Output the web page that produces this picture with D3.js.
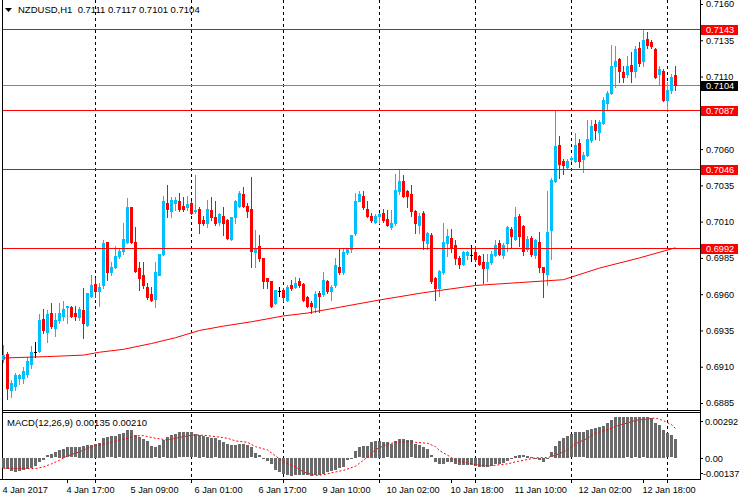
<!DOCTYPE html>
<html><head><meta charset="utf-8">
<script src="https://cdn.jsdelivr.net/npm/d3@7"></script>
<style>
body{margin:0;background:#fff}
svg{display:block}
text{font-family:"Liberation Sans",Arial,sans-serif;font-size:9.2px}
</style>
</head><body>
<svg id="c" width="740" height="500"></svg>
<script>
// ---- DATA ----
const symbolTitle = "NZDUSD,H1";
const titleValues = ["0.7111", "0.7117", "0.7101", "0.7104"];
// hourly candles [open, high, low, close]
const ohlc = [
[0.6915,0.6925,0.6913,0.6918],[0.6919,0.6920,0.6888,0.6895],[0.6894,0.6901,0.6889,0.6899],[0.6897,0.6906,0.6894,0.6904],
[0.6902,0.6905,0.6898,0.6904],[0.6902,0.6910,0.6899,0.6907],[0.6905,0.6917,0.6903,0.6914],[0.6912,0.6924,0.6909,0.6920],
[0.6920,0.6927,0.6917,0.6920],[0.6921,0.6946,0.6920,0.6942],[0.6943,0.6950,0.6933,0.6935],[0.6934,0.6949,0.6927,0.6946],
[0.6947,0.6954,0.6937,0.6938],[0.6937,0.6947,0.6931,0.6942],[0.6942,0.6954,0.6940,0.6947],[0.6945,0.6955,0.6942,0.6950],
[0.6951,0.6952,0.6940,0.6952],[0.6951,0.6952,0.6944,0.6945],[0.6947,0.6952,0.6942,0.6945],[0.6944,0.6951,0.6942,0.6950],
[0.6949,0.6964,0.6930,0.6940],[0.6939,0.6961,0.6938,0.6961],[0.6959,0.6973,0.6958,0.6966],[0.6967,0.6971,0.6958,0.6962],
[0.6962,0.6968,0.6952,0.6965],[0.6966,0.6997,0.6964,0.6995],[0.6996,0.6996,0.6970,0.6975],[0.6975,0.6982,0.6973,0.6979],
[0.6979,0.6993,0.6978,0.6986],[0.6986,0.6992,0.6985,0.6990],[0.6990,0.7009,0.6988,0.6998],[0.6996,0.7026,0.6995,0.7020],
[0.7020,0.7020,0.6995,0.6996],[0.6996,0.7006,0.6975,0.6976],[0.6978,0.6982,0.6963,0.6971],[0.6973,0.6982,0.6964,0.6966],
[0.6965,0.6968,0.6957,0.6958],[0.6960,0.6965,0.6955,0.6956],[0.6957,0.6982,0.6951,0.6975],[0.6973,0.6988,0.6973,0.6988],
[0.6988,0.7028,0.6987,0.7024],[0.7023,0.7035,0.7013,0.7019],[0.7017,0.7027,0.7013,0.7025],[0.7023,0.7027,0.7018,0.7025],
[0.7024,0.7030,0.7017,0.7019],[0.7021,0.7027,0.7017,0.7019],[0.7020,0.7028,0.7018,0.7022],[0.7023,0.7024,0.7015,0.7016],
[0.7017,0.7042,0.7016,0.7018],[0.7019,0.7020,0.7002,0.7009],[0.7011,0.7014,0.7008,0.7009],[0.7009,0.7025,0.7006,0.7019],
[0.7018,0.7027,0.7011,0.7013],[0.7013,0.7024,0.7008,0.7009],[0.7010,0.7016,0.7008,0.7015],[0.7014,0.7020,0.7001,0.7009],
[0.7011,0.7012,0.6998,0.6999],[0.6998,0.7013,0.6997,0.7013],[0.7013,0.7025,0.7009,0.7024],[0.7021,0.7031,0.7020,0.7030],
[0.7029,0.7034,0.7020,0.7021],[0.7021,0.7023,0.7013,0.7017],[0.7019,0.7041,0.6979,0.6990],[0.6989,0.7004,0.6979,0.6991],
[0.6993,0.7001,0.6983,0.6985],[0.6985,0.6985,0.6964,0.6969],[0.6971,0.6971,0.6964,0.6969],[0.6969,0.6969,0.6951,0.6952],
[0.6954,0.6963,0.6953,0.6963],[0.6962,0.6965,0.6959,0.6962],[0.6963,0.6964,0.6955,0.6958],[0.6956,0.6966,0.6955,0.6965],
[0.6966,0.6970,0.6963,0.6964],[0.6965,0.6972,0.6964,0.6968],[0.6969,0.6971,0.6965,0.6966],[0.6967,0.6968,0.6955,0.6956],
[0.6958,0.6959,0.6951,0.6952],[0.6954,0.6955,0.6947,0.6952],[0.6951,0.6962,0.6948,0.6960],[0.6961,0.6962,0.6948,0.6959],
[0.6960,0.6975,0.6959,0.6970],[0.6969,0.6970,0.6961,0.6962],[0.6962,0.6966,0.6956,0.6965],[0.6966,0.6985,0.6965,0.6980],
[0.6979,0.6991,0.6974,0.6975],[0.6975,0.6991,0.6974,0.6989],[0.6989,0.6991,0.6988,0.6991],[0.6991,0.7001,0.6989,0.7001],
[0.7002,0.7030,0.7001,0.7024],[0.7024,0.7031,0.7024,0.7029],[0.7028,0.7031,0.7019,0.7020],[0.7019,0.7024,0.7013,0.7014],
[0.7014,0.7016,0.7010,0.7011],[0.7010,0.7015,0.7009,0.7014],[0.7014,0.7016,0.7009,0.7015],[0.7016,0.7019,0.7010,0.7011],
[0.7012,0.7018,0.7007,0.7008],[0.7006,0.7018,0.7005,0.7009],[0.7009,0.7043,0.7008,0.7032],[0.7031,0.7046,0.7029,0.7038],
[0.7038,0.7042,0.7027,0.7028],[0.7031,0.7032,0.7020,0.7028],[0.7029,0.7035,0.7014,0.7017],[0.7017,0.7018,0.7002,0.7009],
[0.7008,0.7016,0.7002,0.7014],[0.7016,0.7017,0.6991,0.6997],[0.6995,0.7003,0.6991,0.7002],[0.7001,0.7002,0.6968,0.6969],
[0.6971,0.6972,0.6956,0.6964],[0.6964,0.6977,0.6959,0.6976],[0.6975,0.7009,0.6974,0.6996],[0.6995,0.7005,0.6986,0.7000],
[0.6999,0.7005,0.6989,0.6992],[0.6994,0.6997,0.6981,0.6985],[0.6985,0.6986,0.6978,0.6981],[0.6981,0.6990,0.6980,0.6989],
[0.6987,0.6990,0.6984,0.6989],[0.6987,0.6994,0.6983,0.6987],[0.6989,0.6993,0.6983,0.6984],[0.6986,0.6987,0.6980,0.6981],
[0.6982,0.6988,0.6968,0.6978],[0.6978,0.6988,0.6969,0.6982],[0.6982,0.6990,0.6981,0.6988],[0.6987,0.6997,0.6986,0.6994],
[0.6995,0.6997,0.6987,0.6988],[0.6987,0.6995,0.6985,0.6994],[0.6995,0.7007,0.6990,0.7006],[0.7005,0.7006,0.6992,0.7000],
[0.6998,0.7020,0.6997,0.7013],[0.7014,0.7015,0.6993,0.7000],[0.7007,0.7008,0.6987,0.6990],[0.6991,0.7000,0.6990,0.6998],
[0.6999,0.7000,0.6986,0.6988],[0.6987,0.6998,0.6985,0.6997],[0.6996,0.7003,0.6975,0.6979],[0.6979,0.6979,0.6958,0.6975],
[0.6974,0.7031,0.6966,0.7003],[0.7004,0.7040,0.6984,0.7039],[0.7038,0.7087,0.7037,0.7062],[0.7063,0.7069,0.7040,0.7050],
[0.7052,0.7053,0.7043,0.7049],[0.7048,0.7053,0.7047,0.7052],[0.7053,0.7055,0.7052,0.7054],[0.7052,0.7071,0.7051,0.7063],
[0.7064,0.7067,0.7048,0.7052],[0.7053,0.7058,0.7044,0.7056],[0.7056,0.7080,0.7055,0.7067],[0.7066,0.7080,0.7065,0.7076],
[0.7077,0.7080,0.7067,0.7073],[0.7072,0.7080,0.7066,0.7079],[0.7078,0.7096,0.7077,0.7094],[0.7092,0.7100,0.7087,0.7099],
[0.7099,0.7132,0.7098,0.7117],[0.7117,0.7131,0.7103,0.7121],[0.7122,0.7123,0.7106,0.7114],[0.7113,0.7117,0.7106,0.7110],
[0.7112,0.7124,0.7110,0.7117],[0.7118,0.7127,0.7106,0.7114],[0.7114,0.7131,0.7110,0.7129],[0.7130,0.7134,0.7117,0.7119],
[0.7121,0.7143,0.7117,0.7135],[0.7136,0.7141,0.7130,0.7132],[0.7134,0.7135,0.7130,0.7131],[0.7129,0.7130,0.7109,0.7110],
[0.7112,0.7117,0.7105,0.7115],[0.7114,0.7115,0.7093,0.7094],[0.7094,0.7106,0.7086,0.7101],[0.7101,0.7112,0.7099,0.7110],
[0.7111,0.7117,0.7101,0.7104]
];
// moving average read at [bar, value]
const maPoints = [[0,0.6916],[11,0.6917],[20,0.6918],[24,0.6920],[30,0.6922],[37,0.6926],[43,0.6930],[49,0.6935],
[55,0.6938],[62,0.6941],[70,0.6945],[76,0.6947],[84,0.6951],[94,0.6956],[105,0.6961],[118,0.6966],[129,0.6968],
[140,0.6970],[149,0.6978],[159,0.6985],[168,0.6992]];
// MACD main (histogram), one per bar
const macdMain = [
-0.00075,-0.00080,-0.00095,-0.00100,-0.00095,-0.00088,-0.00080,-0.00071,-0.00056,-0.00032,
-0.00015,0.00017,0.00027,0.00039,0.00054,0.00066,0.00075,0.00075,0.00075,0.00080,
0.00085,0.00090,0.00095,0.00102,0.00107,0.00141,0.00146,0.00153,0.00158,0.00168,
0.00178,0.00197,0.00197,0.00163,0.00148,0.00134,0.00119,0.00083,0.00075,0.00095,
0.00124,0.00148,0.00163,0.00173,0.00182,0.00182,0.00182,0.00182,0.00168,0.00161,
0.00153,0.00148,0.00144,0.00139,0.00127,0.00114,0.00100,0.00095,0.00095,0.00100,
0.00100,0.00095,0.00075,0.00034,0.00017,-0.00002,-0.00022,-0.00046,-0.00088,-0.00100,
-0.00112,-0.00124,-0.00129,-0.00124,-0.00124,-0.00119,-0.00124,-0.00131,-0.00124,-0.00119,
-0.00112,-0.00100,-0.00095,-0.00088,-0.00075,-0.00063,-0.00015,-0.00002,0.00051,0.00075,
0.00085,0.00085,0.00112,0.00119,0.00119,0.00114,0.00110,0.00102,0.00119,0.00134,
0.00134,0.00131,0.00124,0.00100,0.00095,0.00080,0.00063,0.00017,-0.00027,-0.00041,
-0.00041,-0.00032,-0.00032,-0.00041,-0.00051,-0.00051,-0.00051,-0.00051,-0.00056,-0.00061,
-0.00063,-0.00066,-0.00056,-0.00046,-0.00041,-0.00037,-0.00022,-0.00002,0.00015,0.00022,
0.00017,0.00015,0.00007,-0.00002,-0.00015,-0.00027,-0.00010,0.00039,0.00088,0.00119,
0.00144,0.00156,0.00168,0.00182,0.00182,0.00182,0.00197,0.00204,0.00212,0.00221,
0.00231,0.00248,0.00270,0.00290,0.00292,0.00290,0.00289,0.00290,0.00289,0.00290,
0.00289,0.00290,0.00288,0.00250,0.00238,0.00200,0.00175,0.00160,0.00135
];
// MACD signal read at [bar, value]
const macdSignal = [[0,-0.00075],[8,-0.00077],[10,-0.00065],[12,-0.00043],[14,-0.00017],[16,0.00014],[19,0.00043],
[21,0.00068],[23,0.00087],[26,0.00104],[28,0.00121],[31,0.00140],[33,0.00157],[35,0.00159],[36,0.00152],[38,0.00140],
[41,0.00128],[43,0.00140],[46,0.00157],[48,0.00164],[51,0.00159],[53,0.00152],[56,0.00140],[58,0.00121],[61,0.00111],
[63,0.00080],[66,0.00056],[68,0.00014],[70,-0.00029],[73,-0.00065],[75,-0.00101],[78,-0.00126],[80,-0.00121],
[83,-0.00101],[85,-0.00089],[88,-0.00060],[90,-0.00017],[92,0.00028],[93,0.00060],[96,0.00097],[98,0.00111],
[101,0.00116],[103,0.00111],[106,0.00104],[108,0.00080],[109,0.00052],[111,0.00019],[113,-0.00017],[116,-0.00036],
[118,-0.00048],[121,-0.00058],[123,-0.00053],[126,-0.00043],[128,-0.00029],[131,-0.00012],[133,0.00000],[136,0.00002],
[138,0.00019],[141,0.00056],[143,0.00100],[146,0.00140],[148,0.00176],[151,0.00200],[153,0.00225],[156,0.00249],
[158,0.00268],[161,0.00278],[163,0.00285],[165,0.00266],[167,0.00237],[168,0.00210]];
const macdTitle = "MACD(12,26,9) 0.00135 0.00210";
const levels = [0.7143, 0.7087, 0.7046, 0.6992];
const lastPrice = 0.7104;
const priceTicks = [0.7160,0.7135,0.7110,0.7085,0.7060,0.7035,0.7010,0.6985,0.6960,0.6935,0.6910,0.6885];
const macdTicks = [0.00292, 0.00, -0.00137];
const macdTickText = ["0.00292", "0.00", "-0.00137"];
const timeLabelBars = [0,16,32,48,64,80,96,112,128,144,160];
const timeLabels = ["4 Jan 2017","4 Jan 17:00","5 Jan 09:00","6 Jan 01:00","6 Jan 17:00","9 Jan 10:00",
"10 Jan 02:00","10 Jan 18:00","11 Jan 10:00","12 Jan 02:00","12 Jan 18:00"];
const dayStartBars = [23,47,70,94,118,142,166];
const timeTickBars = [16,23,47,70,94,112,118,142,160,166];

// ---- DRAW ----
const BLUE = "#00bfff", RED = "#ff0000";
const FONT = "Liberation Sans, Arial, sans-serif";
const svg = d3.select("#c");
const x = d3.scaleLinear().domain([0, 168]).range([3, 675]);
const cx = i => Math.round(x(i));
const y = d3.scaleLinear().domain([0.6885, 0.7160]).range([403, 4]);
const ym = d3.scaleLinear().domain([-0.00137, 0.00292]).range([477, 417]);
const R = v => Math.round(v);

// dashed day separators
svg.append("g").selectAll("line").data(dayStartBars).join("line")
  .attr("x1", d => cx(d) + 0.5).attr("x2", d => cx(d) + 0.5)
  .attr("y1", 0).attr("y2", 479)
  .attr("stroke", "#000").attr("stroke-dasharray", "3,3").attr("shape-rendering","crispEdges");

// frame
const fr = svg.append("g").attr("stroke", "#000").attr("shape-rendering","crispEdges");
fr.append("line").attr("x1", 2.5).attr("x2", 2.5).attr("y1", 0).attr("y2", 479);
fr.append("line").attr("x1", 700.5).attr("x2", 700.5).attr("y1", 0).attr("y2", 480);
fr.append("line").attr("x1", 2).attr("x2", 701).attr("y1", 410.5).attr("y2", 410.5);
fr.append("line").attr("x1", 2).attr("x2", 701).attr("y1", 412.5).attr("y2", 412.5);
fr.append("line").attr("x1", 0).attr("x2", 701).attr("y1", 479.5).attr("y2", 479.5);

// bid line
svg.append("line").attr("x1", 3).attr("x2", 700).attr("y1", R(y(lastPrice)) + 0.5).attr("y2", R(y(lastPrice)) + 0.5)
  .attr("stroke", "#778899").attr("shape-rendering","crispEdges");

// candles
const cg = svg.append("g").attr("shape-rendering", "crispEdges");
const colorOf = d => d[3] > d[0] ? BLUE : (d[3] < d[0] ? RED : "#000");
cg.selectAll("rect.w").data(ohlc).join("rect").attr("class","w")
  .attr("x", (d,i) => cx(i)).attr("width", 1)
  .attr("y", d => R(y(d[1])))
  .attr("height", d => Math.max(1, R(y(d[2])) - R(y(d[1])) + 1))
  .attr("fill", colorOf);
cg.selectAll("rect.b").data(ohlc).join("rect").attr("class","b")
  .attr("x", (d,i) => cx(i) - 1).attr("width", 3)
  .attr("y", d => R(y(Math.max(d[0], d[3]))))
  .attr("height", d => Math.max(1, R(y(Math.min(d[0], d[3]))) - R(y(Math.max(d[0], d[3]))) + 1))
  .attr("fill", colorOf);

// moving average
svg.append("path").datum(maPoints)
  .attr("d", d3.line().x(d => cx(d[0]) + 0.5).y(d => y(d[1])))
  .attr("fill", "none").attr("stroke", RED).attr("stroke-width", 1);

// horizontal levels
svg.append("g").selectAll("line").data(levels).join("line")
  .attr("x1", 3).attr("x2", 700).attr("y1", d => R(y(d)) + 0.5).attr("y2", d => R(y(d)) + 0.5)
  .attr("stroke", RED).attr("shape-rendering","crispEdges");

// price axis
const yAxis = d3.axisRight(y).tickValues(priceTicks).tickSize(3).tickSizeOuter(0).tickPadding(3)
  .tickFormat(d3.format(".4f"));
const ya = svg.append("g").attr("transform", "translate(700,0)").call(yAxis);
ya.select(".domain").remove();
ya.selectAll("text").attr("font-family", FONT).attr("font-size", "9.2px").attr("fill","#000");

// level labels
const boxes = svg.append("g");
levels.forEach(v => {
  const yy = R(y(v));
  boxes.append("rect").attr("x", 701).attr("y", yy - 4).attr("width", 37).attr("height", 10).attr("fill", RED);
  boxes.append("text").attr("x", 706).attr("y", yy + 0.5).attr("dy", "0.35em").attr("fill", "#fff").text(d3.format(".4f")(v));
});
{
  const yy = R(y(lastPrice));
  boxes.append("rect").attr("x", 701).attr("y", yy - 4).attr("width", 37).attr("height", 10).attr("fill", "#000");
  boxes.append("text").attr("x", 706).attr("y", yy + 0.5).attr("dy", "0.35em").attr("fill", "#fff").text(d3.format(".4f")(lastPrice));
}

// title
svg.append("path").attr("d", "M5,8L12,8L8.5,12Z").attr("fill", "#000");
svg.append("text").attr("x", 18).attr("y", 13).style("font-size","9.5px").style("white-space","pre")
  .text(symbolTitle + "  " + titleValues.join(" "));

// MACD histogram
const mg = svg.append("g").attr("shape-rendering", "crispEdges");
mg.selectAll("rect").data(macdMain).join("rect")
  .attr("x", (d,i) => cx(i) - 1).attr("width", 3)
  .attr("y", d => R(Math.min(ym(d), ym(0))))
  .attr("height", d => Math.max(1, R(Math.abs(ym(d) - ym(0)))))
  .attr("fill", "#6a6a6a");
svg.append("path").datum(macdSignal)
  .attr("d", d3.line().x(d => cx(d[0]) + 0.5).y(d => ym(d[1])))
  .attr("fill", "none").attr("stroke", RED).attr("stroke-width", 1).attr("stroke-dasharray", "2,2");
svg.append("text").attr("x", 7).attr("y", 425.5).style("font-size","9.5px").text(macdTitle);

// MACD axis labels
const mClamp = v => Math.max(421, Math.min(473, R(ym(v))));
const ma = svg.append("g");
macdTicks.forEach((v, k) => {
  const yy = mClamp(v);
  ma.append("line").attr("x1", 700).attr("x2", 703).attr("y1", yy + 0.5).attr("y2", yy + 0.5).attr("stroke", "#000").attr("shape-rendering","crispEdges");
  ma.append("text").attr("x", v < 0 ? 703 : 705).attr("y", yy + 0.5).attr("dy", "0.35em").text(macdTickText[k]);
});

// time axis ticks and labels
const xb = d3.scaleLinear().domain([0,168]).range([cx(0), cx(168)]);
const xt = svg.append("g").attr("transform", "translate(0,479)").call(
  d3.axisBottom(xb).tickValues(timeTickBars).tickSize(4).tickSizeOuter(0).tickFormat(""));
xt.select(".domain").remove();
const xl = svg.append("g").attr("transform", "translate(0,479)").call(
  d3.axisBottom(xb).tickValues(timeLabelBars).tickSize(0).tickSizeOuter(0)
    .tickFormat((d, i) => timeLabels[i]));
xl.select(".domain").remove();
xl.selectAll("text").attr("text-anchor", "start").attr("x", -1).attr("y", 13.5).attr("dy", 0)
  .attr("font-family", FONT).attr("font-size", "9.5px").attr("fill","#000");
</script>
</body></html>
